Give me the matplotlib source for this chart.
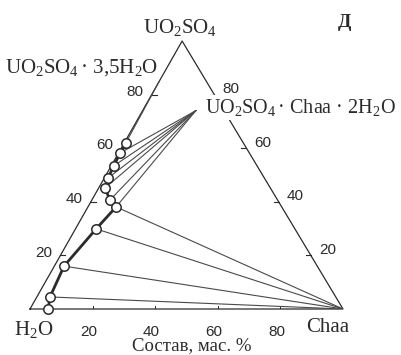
import numpy as np
import matplotlib
matplotlib.use("Agg")
import matplotlib.pyplot as plt

plt.rcParams["font.family"] = "Liberation Serif"
plt.rcParams["mathtext.fontset"] = "custom"
plt.rcParams["mathtext.rm"] = "Liberation Serif"
plt.rcParams["mathtext.it"] = "Liberation Serif:italic"

INK = "#2b2b2b"
TIE = "#4a4a4a"

# liquid phase compositions, mass %
liq_uo2so4 = [61.9, 58.2, 53.4, 48.9, 45.1, 40.7, 38.1, 29.9, 16.0, 4.5, 0.0]
liq_chaa = [0.5, 0.5, 0.8, 1.2, 2.0, 5.8, 9.0, 6.6, 3.1, 4.2, 5.8]

# solid phases, mass %
hydrate = (85.0, 0.0)        # UO2SO4*3.5H2O  (UO2SO4, Chaa)
double_salt = (74.0, 17.0)   # UO2SO4*Chaa*2H2O
chaa_solid = (0.0, 100.0)

# which liquid points are tied to which solid
ties_hydrate = [0]
ties_double = [1, 2, 3, 4, 5, 6]
ties_chaa = [6, 7, 8, 9]

ticks = [20, 40, 60, 80]

# triangle corners in plot units: H2O, Chaa, UO2SO4
V_H2O = np.array([0.0, 0.0])
V_CHAA = np.array([100.0, 0.0])
V_UO2 = np.array([48.6, 100.0])


def to_xy(u, c):
    u = np.asarray(u, float) / 100.0
    c = np.asarray(c, float) / 100.0
    w = 1.0 - u - c
    x = w * V_H2O[0] + c * V_CHAA[0] + u * V_UO2[0]
    y = w * V_H2O[1] + c * V_CHAA[1] + u * V_UO2[1]
    return x, y


fig = plt.figure(figsize=(4.01, 3.55), dpi=100)
fig.patch.set_facecolor("white")
ax = fig.add_axes([30 / 401, 46 / 355, 313 / 401, 268 / 355])
ax.set_xlim(0, 100)
ax.set_ylim(0, 100)
ax.axis("off")

# frame
tri = np.array([V_H2O, V_CHAA, V_UO2, V_H2O])
ax.plot(tri[:, 0], tri[:, 1], color=INK, lw=0.9, clip_on=False, zorder=2)

# tick marks and numbers
TFS = 11
for t in ticks:
    # left side (UO2SO4 on the H2O-UO2SO4 edge)
    x, y = to_xy(t, 0)
    ax.plot([x, x + 1.6], [y, y], color=INK, lw=0.8, zorder=2)
    ax.annotate(str(t), (x, y), xytext=(-12, 2), textcoords="offset points",
                ha="center", va="center", fontsize=TFS,
                family="Liberation Sans", color=INK)
    # right side
    x, y = to_xy(t, 100 - t)
    ax.plot([x - 1.6, x], [y, y], color=INK, lw=0.8, zorder=2)
    ax.annotate(str(t), (x, y), xytext=(12, 4), textcoords="offset points",
                ha="center", va="center", fontsize=TFS,
                family="Liberation Sans", color=INK)
    # base
    x, y = to_xy(0, t)
    ax.plot([x, x], [0, 1.2], color=INK, lw=0.7, zorder=2)
    ax.text(x - 1.2, -9.9, str(t), ha="center", va="baseline", fontsize=TFS,
            family="Liberation Sans", color=INK)

# tie lines
lx, ly = to_xy(liq_uo2so4, liq_chaa)
for solid, idx in ((hydrate, ties_hydrate), (double_salt, ties_double),
                   (chaa_solid, ties_chaa)):
    sx, sy = to_xy(*solid)
    for i in idx:
        ax.plot([lx[i], sx], [ly[i], sy], color=TIE, lw=0.8, zorder=3)

# solubility curve
ax.plot(lx, ly, color=INK, lw=2.0, zorder=4, solid_capstyle="round")
ax.plot(lx, ly, ls="none", marker="o", ms=6.8, mfc="white", mec=INK,
        mew=1.1, zorder=5, clip_on=False)

# labels
FS = 15
ax.text(47.9, 103.0, r"UO$_2$SO$_4$", ha="center", va="baseline",
        fontsize=FS, color=INK, clip_on=False)
ax.text(-8.0, 88.4, r"UO$_2$SO$_4\!$ · 3,5H$_2$O", ha="left",
        va="baseline", fontsize=FS, color=INK, clip_on=False)
ax.text(55.9, 73.0, r"UO$_2$SO$_4\!$ · Chaa · 2H$_2$O", ha="left",
        va="baseline", fontsize=14.5, color=INK, clip_on=False, zorder=6,
        bbox=dict(facecolor="white", edgecolor="none", pad=1.5))
ax.text(100.6, 107.0, "Д", ha="center", va="center", fontsize=14,
        fontweight="bold", color=INK, clip_on=False)
ax.text(1.1, -9.7, r"H$_2$O", ha="center", va="baseline", fontsize=FS,
        color=INK, clip_on=False)
ax.text(95.2, -8.6, "Chaa", ha="center", va="baseline", fontsize=FS,
        color=INK, clip_on=False)
ax.text(51.8, -15.3, "Состав, мас. %", ha="center", va="baseline",
        fontsize=13.5, color=INK, clip_on=False)

fig.savefig("out.png", dpi=100, facecolor="white")
